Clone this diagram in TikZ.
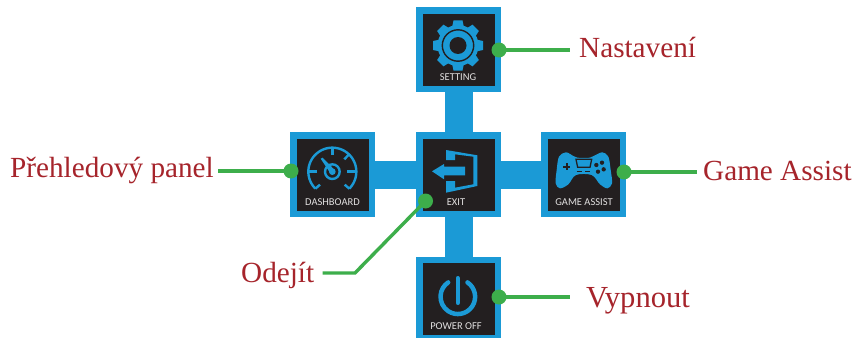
\documentclass[tikz,border=0pt]{standalone}
\usepackage{fontspec}
\setmainfont{Liberation Serif}
\newfontfamily\boxfont{Carlito}
\definecolor{oBlue}{HTML}{1B9AD6}
\definecolor{oDark}{HTML}{231F20}
\definecolor{oGreen}{HTML}{3DAE4B}
\definecolor{oRed}{HTML}{A6242B}
\definecolor{oGrey}{HTML}{E2E0E0}
\tikzset{
  menubox/.style={draw=oBlue,fill=oDark,line width=6.5pt,minimum size=78.5pt,inner sep=0pt},
  bar/.style={draw=oBlue,line width=28pt,shorten <=-1pt,shorten >=-1pt},
  dotnode/.style={circle,fill=oGreen,minimum size=15pt,inner sep=0pt},
  leader/.style={draw=oGreen,line width=3.4pt,shorten <=-2pt},
  callout/.style={text=oRed,font=\fontsize{29.2}{31}\selectfont,inner sep=0pt,anchor=base west},
  boxlabel/.style={text=oGrey,font=\boxfont\fontsize{10.5}{11}\selectfont,inner sep=0pt},
  icon/.style={fill=oBlue,draw=none},
  iconline/.style={draw=oBlue,line width=2.4pt},
}
\begin{document}
\begin{tikzpicture}[x=1pt,y=-1pt]
\clip (0,0) rectangle (853,337);
\fill[white] (0,0) rectangle (853,337);
% boxes
\node[menubox] (setting) at (458.5,49.8) {};
\node[menubox] (dashboard) at (332.8,174.5) {};
\node[menubox] (exit) at (458.5,174.5) {};
\node[menubox] (game) at (583.8,174.5) {};
\node[menubox] (power) at (458.5,299) {};
% bars
\draw[bar,xshift=-0.5pt] (setting) -- (exit);
\draw[bar] (dashboard) -- (exit);
\draw[bar] (game) -- (exit);
\draw[bar,xshift=-0.5pt] (power) -- (exit);
% box labels
\node[boxlabel] (settingtext) at (458,77.3) {SETTING};
\node[boxlabel] (dashboardtext) at (332.5,201.7) {DASHBOARD};
\node[boxlabel] (exittext) at (456,201.7) {EXIT};
\node[boxlabel] (gametext) at (584,201.7) {GAME ASSIST};
\node[boxlabel] (powertext) at (456,326) {POWER OFF};
% gear icon
\begin{scope}[shift={(458,45.5)}]
  \fill[oBlue] (0,0) circle (20.5);
  \foreach \a in {0,45,...,315}
    \fill[oBlue,rotate=\a] (-6,-18) -- (-4.5,-25) -- (4.5,-25) -- (6,-18) -- cycle;
  \draw[oDark,line width=1.4pt] (0,0) circle (15.7);
  \fill[oDark] (0,0) circle (8.5);
\end{scope}
% gauge icon
\begin{scope}[shift={(280,120)},scale=1/3]
  \draw[iconline] plot[domain=-45:225,samples=60] ({157+72*cos(\x)},{155-72*sin(\x)});
  \draw[iconline] (106,206) -- (120,194);
  \draw[iconline] (208,206) -- (194,194);
  \draw[iconline] (157,85) -- (157,105);
  \draw[iconline] (86,155) -- (112,155);
  \draw[iconline] (202,155) -- (228,155);
  \draw[iconline] (193,118) -- (206,104);
  \draw[iconline] (157,155) circle (22);
  \fill[oBlue] (157,155) circle (10);
  \fill[oBlue] (122,116) -- (128,113) -- (164,150) -- (152,161) -- cycle;
\end{scope}
% exit icon
\fill[icon] (446,150) -- (477.3,155.3) -- (477.3,186) -- (446,192.7) -- (446,181) -- (455,181)
  -- (455,187.7) -- (473.3,184.3) -- (473.3,156.7) -- (455,154.3) -- (455,160) -- (446,160) -- cycle;
\fill[icon] (432,171.3) -- (444,164) -- (444,166.7) -- (465,166.7) -- (465,175.3) -- (444,175.3) -- (444,179.3) -- cycle;
% gamepad icon
\begin{scope}[shift={(490,120)},scale=1/3]
  \fill[oBlue] plot[smooth cycle,tension=0.55] coordinates {
    (228,97) (250,108) (262,113) (300,113) (315,106) (337,97) (355,110) (362,150) (366,190) (352,205)
    (330,193) (305,165) (258,165) (235,193) (210,205) (197,190) (200,150) (207,110)};
  \draw[oDark,line width=1.3pt] (258,118) -- (305,118) -- (300,142) -- (263,142) -- cycle;
  \draw[oDark,line width=2pt] (219,140) -- (241,140) (230,129) -- (230,151);
  \draw[oDark,line width=1.3pt] (260,155) -- (275,155) (285,155) -- (300,155);
  \fill[oDark] (319,135) circle (6.5) (336,128) circle (6.5) (341,148) circle (6.5) (324,155) circle (6.5);
\end{scope}
% power icon
\draw[oBlue,line width=4.5pt,line cap=round] (467.5,282.4) arc[start angle=-56,end angle=236,radius=17.3];
\draw[oBlue,line width=4pt,line cap=round] (457.7,278) -- (457.7,303);
% callout labels
\node[callout] (nastaveni) at (579,58) {Nastavení};
\node[callout] (prehled) at (10,177) {Přehledový panel};
\node[callout] (gameassist) at (703,180) {Game Assist};
\node[callout] (odejit) at (241,282) {Odejít};
\node[callout,font=\fontsize{30.6}{32}\selectfont] (vypnout) at (586,307) {Vypnout};
% free ends and elbow
\coordinate (nastaveniend) at (570,50);
\coordinate (prehledend) at (218,171);
\coordinate (gameend) at (697,172);
\coordinate (vypnoutend) at (570,297);
\coordinate (odejitend) at (322.5,273);
\coordinate (odejitelbow) at (355,273);
% dots
\node[dotnode] (dotsetting) at (499,50) {};
\node[dotnode] (dotdash) at (291,171) {};
\node[dotnode] (dotexit) at (425.5,201) {};
\node[dotnode] (dotgame) at (624,172) {};
\node[dotnode] (dotpower) at (499,297) {};
% leaders
\draw[leader] (dotsetting) -- (nastaveniend);
\draw[leader] (dotdash) -- (prehledend);
\draw[leader] (dotgame) -- (gameend);
\draw[leader] (dotpower) -- (vypnoutend);
\draw[leader] (dotexit) -- (odejitelbow) -- (odejitend);
\end{tikzpicture}
\end{document}
